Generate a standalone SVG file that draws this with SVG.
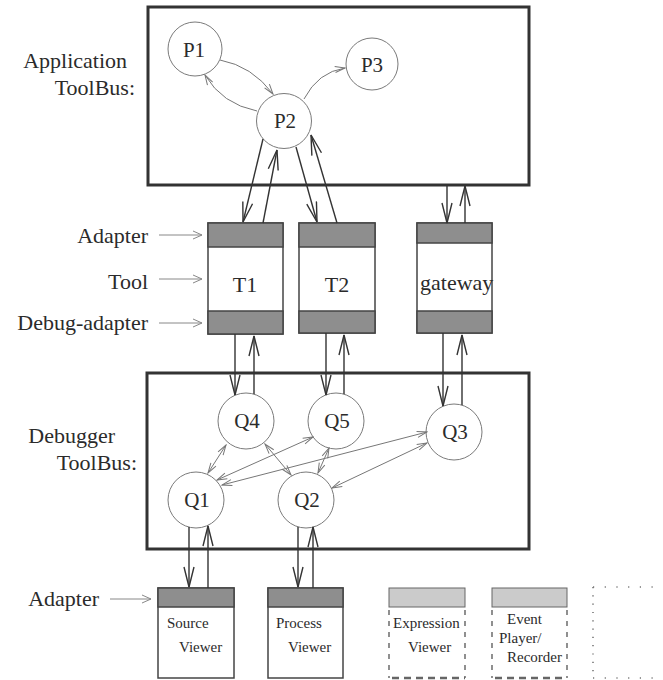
<svg xmlns="http://www.w3.org/2000/svg" width="663" height="680" viewBox="0 0 663 680">
  <style>
    text { font-family: "Liberation Serif", "Times New Roman", serif; fill: #2b2b2b; }
    .lbl { font-size: 22px; }
    .node { font-size: 21px; text-anchor: middle; }
    .small { font-size: 15px; }
    .bus { fill: none; stroke: #333; stroke-width: 3; }
    .proc { fill: #fff; stroke: #7a7a7a; stroke-width: 1; }
    .tool { fill: #fff; stroke: #444; stroke-width: 1.5; }
    .band { fill: #8e8e8e; stroke: #444; stroke-width: 1.5; }
    .lband { fill: #cbcbcb; stroke: #666; stroke-width: 1; }
    .dash { fill: none; stroke: #555; stroke-width: 1.3; stroke-dasharray: 5 6; }
    .dashb { fill: none; stroke: #666; stroke-width: 2.5; stroke-dasharray: 7 5; }
    .dot { fill: none; stroke: #777; stroke-width: 1.6; stroke-dasharray: 1.2 10.5; }
    .heavy { fill: none; stroke: #333; stroke-width: 1.4; marker-end: url(#big); }
    .thin { fill: none; stroke: #777; stroke-width: 1; marker-end: url(#small); }
    .both { fill: none; stroke: #777; stroke-width: 1; marker-start: url(#small); marker-end: url(#small); }
    .ptr { fill: none; stroke: #888; stroke-width: 1; marker-end: url(#ptr); }
  </style>
  <defs>
    <marker id="big" viewBox="-22 -6 24 12" refX="0" refY="0" markerWidth="24" markerHeight="12" markerUnits="userSpaceOnUse" orient="auto-start-reverse">
      <path d="M-20,-5 L0,0 L-20,5" fill="none" stroke="#333" stroke-width="1.4"/>
    </marker>
    <marker id="small" viewBox="-11 -4 12 8" refX="0" refY="0" markerWidth="12" markerHeight="8" markerUnits="userSpaceOnUse" orient="auto-start-reverse">
      <path d="M-10,-3 L0,0 L-10,3" fill="none" stroke="#777" stroke-width="1"/>
    </marker>
    <marker id="ptr" viewBox="-11 -5 12 10" refX="0" refY="0" markerWidth="12" markerHeight="10" markerUnits="userSpaceOnUse" orient="auto">
      <path d="M-9,-4 L0,0 L-9,4" fill="none" stroke="#888" stroke-width="1"/>
    </marker>
  </defs>

  <!-- side labels -->
  <g id="labels">
    <text class="lbl" x="127" y="68" text-anchor="end">Application</text>
    <text class="lbl" x="135" y="95" text-anchor="end">ToolBus:</text>
    <text class="lbl" x="148" y="243" text-anchor="end">Adapter</text>
    <text class="lbl" x="148" y="289" text-anchor="end">Tool</text>
    <text class="lbl" x="148" y="330" text-anchor="end">Debug-adapter</text>
    <text class="lbl" x="115" y="443" text-anchor="end">Debugger</text>
    <text class="lbl" x="137" y="470" text-anchor="end">ToolBus:</text>
    <text class="lbl" x="99" y="606" text-anchor="end">Adapter</text>
    <line class="ptr" x1="159" y1="235" x2="202" y2="235"/>
    <line class="ptr" x1="159" y1="279" x2="202" y2="279"/>
    <line class="ptr" x1="159" y1="323" x2="202" y2="323"/>
    <line class="ptr" x1="110" y1="599" x2="151" y2="599"/>
  </g>

  <!-- the two buses -->
  <g id="app-bus"><rect class="bus" x="148" y="7" width="381" height="178"/></g>
  <g id="dbg-bus"><rect class="bus" x="147" y="373" width="382" height="176"/></g>

  <!-- application processes -->
  <g id="p1"><circle class="proc" cx="195" cy="49" r="27"/><text class="node" x="194" y="57">P1</text></g>
  <g id="p2"><circle class="proc" cx="284" cy="121" r="27.5"/><text class="node" x="285" y="128">P2</text></g>
  <g id="p3"><circle class="proc" cx="372" cy="64" r="26"/><text class="node" x="372" y="72">P3</text></g>

  <!-- tools -->
  <g id="t1">
    <rect class="tool" x="208" y="223" width="75" height="111"/>
    <rect class="band" x="208" y="223" width="75" height="24"/>
    <rect class="band" x="208" y="311" width="75" height="23"/>
    <text class="lbl" x="245" y="292" text-anchor="middle">T1</text>
  </g>
  <g id="t2">
    <rect class="tool" x="299" y="223" width="76" height="110"/>
    <rect class="band" x="299" y="223" width="76" height="24"/>
    <rect class="band" x="299" y="311" width="76" height="22"/>
    <text class="lbl" x="337" y="292" text-anchor="middle">T2</text>
  </g>
  <g id="gateway">
    <rect class="tool" x="417" y="223" width="75" height="110"/>
    <rect class="band" x="417" y="223" width="75" height="20"/>
    <rect class="band" x="417" y="311" width="75" height="22"/>
    <text class="lbl" x="420" y="290">gateway</text>
  </g>

  <!-- debugger processes -->
  <g id="q4"><circle class="proc" cx="246" cy="421" r="28"/><text class="node" x="247" y="428">Q4</text></g>
  <g id="q5"><circle class="proc" cx="336" cy="421" r="28"/><text class="node" x="337" y="428">Q5</text></g>
  <g id="q3"><circle class="proc" cx="454" cy="432" r="28"/><text class="node" x="455" y="439">Q3</text></g>
  <g id="q1"><circle class="proc" cx="196" cy="500" r="28"/><text class="node" x="197" y="507">Q1</text></g>
  <g id="q2"><circle class="proc" cx="306" cy="500" r="28"/><text class="node" x="307" y="507">Q2</text></g>

  <!-- viewers -->
  <g id="source-viewer">
    <rect class="tool" x="158" y="588" width="76" height="90"/>
    <rect class="band" x="158" y="588" width="76" height="19"/>
    <text class="small" x="167" y="628">Source</text>
    <text class="small" x="179" y="652">Viewer</text>
  </g>
  <g id="process-viewer">
    <rect class="tool" x="268" y="588" width="75" height="90"/>
    <rect class="band" x="268" y="588" width="75" height="19"/>
    <text class="small" x="276" y="628">Process</text>
    <text class="small" x="288" y="652">Viewer</text>
  </g>
  <g id="expression-viewer">
    <rect class="lband" x="389" y="588" width="76" height="19"/>
    <line class="dash" x1="389" y1="610" x2="389" y2="678"/>
    <line class="dash" x1="465" y1="610" x2="465" y2="678"/>
    <line class="dashb" x1="392" y1="678" x2="465" y2="678"/>
    <text class="small" x="393" y="628">Expression</text>
    <text class="small" x="408" y="652">Viewer</text>
  </g>
  <g id="event-player">
    <rect class="lband" x="492" y="588" width="75" height="19"/>
    <line class="dash" x1="492" y1="610" x2="492" y2="678"/>
    <line class="dash" x1="567" y1="610" x2="567" y2="678"/>
    <line class="dashb" x1="495" y1="678" x2="567" y2="678"/>
    <text class="small" x="507" y="624">Event</text>
    <text class="small" x="499" y="643">Player/</text>
    <text class="small" x="507" y="662">Recorder</text>
  </g>
  <g id="open-slot">
    <line class="dot" x1="593" y1="587" x2="670" y2="587"/>
    <line class="dot" x1="593" y1="678" x2="670" y2="678"/>
    <line class="dot" x1="593" y1="587" x2="593" y2="678" style="stroke-dasharray: 1.2 7.1"/>
  </g>

  <!-- connectors -->
  <g id="connectors">
    <!-- inside the application bus -->
    <path class="thin" d="M220,60 Q252,66 273,94"/>
    <path class="thin" d="M257,111 Q222,104 205,75"/>
    <path class="thin" d="M304,99 Q318,72 345,68"/>

    <!-- application bus to tools -->
    <line class="heavy" x1="263" y1="139" x2="243" y2="222"/>
    <line class="heavy" x1="263" y1="223" x2="277" y2="150"/>
    <line class="heavy" x1="296" y1="147" x2="317" y2="222"/>
    <line class="heavy" x1="337" y1="223" x2="311" y2="135"/>
    <line class="heavy" x1="447" y1="185" x2="447" y2="223"/>
    <line class="heavy" x1="465" y1="223" x2="465" y2="186"/>

    <!-- tools to debugger bus -->
    <line class="heavy" x1="235" y1="334" x2="235" y2="395"/>
    <line class="heavy" x1="254" y1="394" x2="254" y2="336"/>
    <line class="heavy" x1="326" y1="333" x2="326" y2="395"/>
    <line class="heavy" x1="344" y1="394" x2="344" y2="335"/>
    <line class="heavy" x1="443" y1="333" x2="443" y2="406"/>
    <line class="heavy" x1="462" y1="405" x2="462" y2="335"/>

    <!-- inside the debugger bus -->
    <line class="both" x1="226" y1="445" x2="208" y2="473"/>
    <line class="both" x1="265" y1="444" x2="291" y2="475"/>
    <line class="both" x1="313" y1="437" x2="217" y2="480"/>
    <line class="both" x1="329" y1="448" x2="318" y2="473"/>
    <line class="both" x1="427" y1="432" x2="222" y2="485"/>
    <line class="both" x1="427" y1="443" x2="332" y2="488"/>

    <!-- debugger bus to viewers -->
    <line class="heavy" x1="189" y1="527" x2="189" y2="587"/>
    <line class="heavy" x1="208" y1="588" x2="208" y2="526"/>
    <line class="heavy" x1="298" y1="527" x2="298" y2="587"/>
    <line class="heavy" x1="313" y1="588" x2="313" y2="527"/>
  </g>
</svg>
